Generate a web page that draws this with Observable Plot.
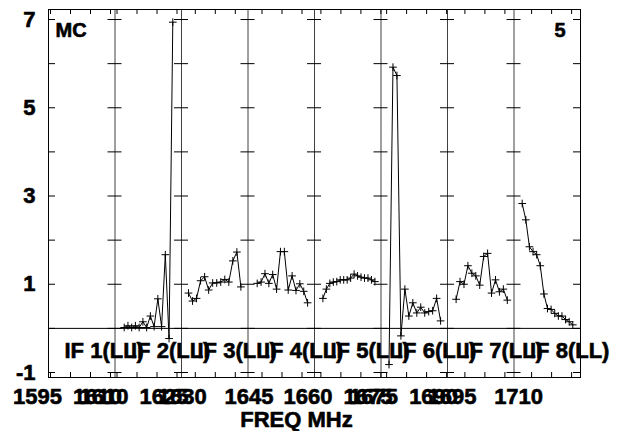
<!DOCTYPE html>
<html><head><meta charset="utf-8">
<script src="https://cdn.jsdelivr.net/npm/d3@7"></script>
<script src="https://cdn.jsdelivr.net/npm/@observablehq/plot@0.6"></script>
<style>html,body{margin:0;padding:0;background:#fff;} svg{display:block;}</style>
</head><body><div id="chart"></div>
<script>
// ---- data ----
const ifLabels = ["IF 1(LL)", "IF 2(LL)", "IF 3(LL)", "IF 4(LL)", "IF 5(LL)", "IF 6(LL)", "IF 7(LL)", "IF 8(LL)"];
// frequency (MHz) at the left edge of each IF panel
const ifLeftFreq = [1594.5, 1609.5, 1626.55, 1641.5, 1658.4, 1673.6, 1690.65, 1705.6];
// first / last plotted channel frequency (MHz) of each IF
const chanFirst = [null, 1611.8, 1628.3, 1643.8, 1660.5, 1675.6, 1692.8, 1707.65];
const chanLast  = [null, 1623.95, 1641.4, 1656.4, 1673.5, 1688.5, 1705.6, 1720.3];
// amplitudes per IF
const if1 = [];
const if2 = [0.02, 0.06, 0.02, 0.06, 0.02, 0.15, 0.02, 0.28, 0.04, 0.67, 0.04, 1.67, -0.23, 6.94];
const if3 = [0.80, 0.62, 0.68, 1.08, 1.17, 0.87, 1.03, 1.03, 1.05, 1.11, 1.05, 1.53, 1.73, 0.94];
const if4 = [1.02, 1.05, 1.24, 1.02, 1.22, 0.89, 1.74, 1.74, 0.87, 1.19, 0.86, 1.01, 0.84, 0.58];
const if5 = [0.68, 0.89, 1.02, 1.05, 1.06, 1.10, 1.10, 1.10, 1.14, 1.23, 1.19, 1.16, 1.14, 1.14, 1.10, 1.06];
const if6 = [-0.82, 5.92, 5.73, -0.17, 0.89, 0.28, 0.58, 0.35, 0.48, 0.35, 0.38, 0.40, 0.68, 0.17];
const if7 = [0.66, 1.06, 1.00, 1.42, 1.25, 1.19, 0.98, 1.63, 1.70, 0.80, 1.10, 0.83, 0.89, 0.64];
const if8 = [2.83, 2.46, 1.85, 1.74, 1.67, 1.42, 0.78, 0.45, 0.43, 0.34, 0.28, 0.28, 0.20, 0.15, 0.08];
const ifValues = [if1, if2, if3, if4, if5, if6, if7, if8];
// axis labels
const yTickValues = [-1, 0, 1, 2, 3, 4, 5, 6, 7];
const yLabelValues = [-1, 1, 3, 5, 7];
const xLabelIF   = [0, 0, 1, 1, 2, 3, 4, 4, 5, 5, 6, 7];
const xLabelFreq = [1595, 1610, 1610, 1625, 1630, 1645, 1660, 1675, 1675, 1690, 1695, 1710];
const cornerLeft = "MC";
const cornerRight = "5";
const xTitle = "FREQ MHz";

// ---- layout helpers ----
const N = ifLabels.length;
const W = 16.625;          // MHz shown per IF panel
const yDomain = [-1.113, 7.227];
const toX = (i, f) => i * W + (f - ifLeftFreq[i]);
const font = "'Liberation Sans', Arial, Helvetica, sans-serif";
const bold = {fontWeight: "bold", fill: "black", stroke: "black", strokeWidth: 0.6};

const points = [];
ifValues.forEach((vals, i) => {
  const n = vals.length;
  vals.forEach((v, k) => {
    const f = n > 1 ? chanFirst[i] + (chanLast[i] - chanFirst[i]) * k / (n - 1) : chanFirst[i];
    points.push({ifn: i, x: toX(i, f), y: v});
  });
});

const bounds = d3.range(1, N).map(i => i * W);
const tickHalf = 1.75; // MHz (~7px)
const yTicks = [];
for (let i = 0; i <= N; i++) for (const v of yTickValues) {
  const c = i * W;
  yTicks.push({y: v, x1: i === 0 ? c : c - tickHalf, x2: i === N ? c : c + tickHalf});
}
const xTicks = [];
ifLeftFreq.forEach((lf, i) => {
  for (let f = Math.ceil(lf / 5) * 5; f <= lf + W; f += 5) xTicks.push(toX(i, f));
});
const xt = 0.113; // tick length in y units (~5px)

const chart = Plot.plot({
  width: 618, height: 431,
  marginLeft: 48, marginRight: 38, marginTop: 9, marginBottom: 54,
  style: {fontFamily: font, background: "white"},
  x: {domain: [0, N * W], axis: null},
  y: {domain: yDomain, axis: null},
  marks: [
    Plot.frame({stroke: "black"}),
    Plot.ruleY([0], {stroke: "black"}),
    Plot.ruleX(bounds, {x: d => d, stroke: "black", strokeOpacity: 0.75}),
    Plot.ruleY(yTicks, {y: "y", x1: "x1", x2: "x2", stroke: "black"}),
    Plot.ruleX(xTicks, {x: d => d, y1: yDomain[0], y2: yDomain[0] + xt, stroke: "black"}),
    Plot.ruleX(xTicks, {x: d => d, y1: yDomain[1] - xt, y2: yDomain[1], stroke: "black"}),
    Plot.line(points, {x: "x", y: "y", z: "ifn", stroke: "black", strokeWidth: 1}),
    Plot.dot(points, {x: "x", y: "y", symbol: "plus", r: 2.6, stroke: "black", strokeWidth: 1}),
    Plot.text(ifLabels, {x: (d, i) => i * W, text: d => d, frameAnchor: "bottom", textAnchor: "start",
      lineAnchor: "bottom", dx: 16, dy: -20, fontSize: 22, ...bold}),
    Plot.text(xLabelFreq, {x: (f, k) => toX(xLabelIF[k], f), text: f => String(f), frameAnchor: "bottom",
      lineAnchor: "top", dx: -13, dy: 11, fontSize: 22, ...bold}),
    Plot.text(yLabelValues, {y: d => d, text: d => (d < 0 ? "-" + Math.abs(d) : String(d)), frameAnchor: "left",
      textAnchor: "end", lineAnchor: "middle", dx: -13, fontSize: 22, ...bold}),
    Plot.text([cornerLeft], {text: d => d, frameAnchor: "top-left", textAnchor: "start", lineAnchor: "bottom",
      dx: 7, dy: 27, fontSize: 20, ...bold}),
    Plot.text([cornerRight], {text: d => d, frameAnchor: "top-right", textAnchor: "end", lineAnchor: "bottom",
      dx: -15, dy: 27, fontSize: 20, ...bold}),
    Plot.text([xTitle], {text: d => d, frameAnchor: "bottom", lineAnchor: "bottom",
      dx: -18, dy: 49, fontSize: 22, ...bold})
  ]
});
document.getElementById("chart").appendChild(chart);
</script>
</body></html>
